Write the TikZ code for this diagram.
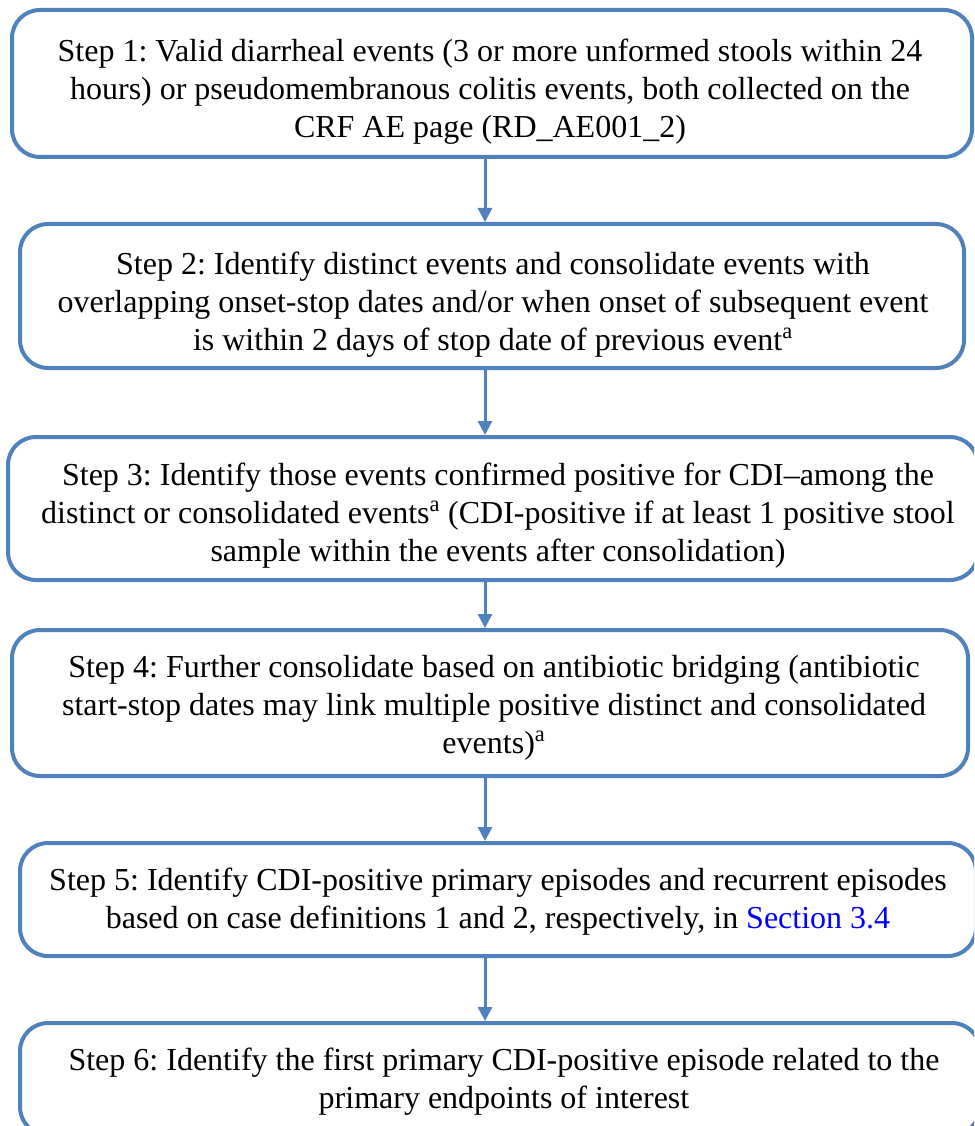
\documentclass[tikz,border=0pt]{standalone}
\usepackage{fontspec}
\setmainfont{Liberation Serif}
\usetikzlibrary{arrows.meta}

\definecolor{stepblue}{RGB}{79,129,189}
\definecolor{linkblue}{RGB}{0,0,255}

\tikzset{
	stepbox/.style={draw=stepblue, line width=3pt, rounded corners=21pt, fill=white, inner sep=0pt},
	steptext/.style={align=center, inner sep=0pt, font=\fontsize{24}{28.5}\selectfont},
	steparrow/.style={draw=stepblue, line width=2.25pt, -{Triangle[width=10.5pt,length=10.5pt]}}}

\begin{document}
\frenchspacing
\begin{tikzpicture}[x=0.75pt,y=0.75pt,yscale=-1,xscale=1]
	\useasboundingbox (0,0) rectangle (974,1126);
	\clip (0,0) rectangle (974,1126);
	
	%Rounded Rect: Step 1
	\node [stepbox, minimum width=720pt, minimum height=110.25pt] (s1) at (492,83.5) {};
	%Rounded Rect: Step 2
	\node [stepbox, minimum width=708pt, minimum height=108pt] (s2) at (492,296) {};
	%Rounded Rect: Step 3
	\node [stepbox, minimum width=727.5pt, minimum height=107.25pt] (s3) at (493,508.5) {};
	%Rounded Rect: Step 4
	\node [stepbox, minimum width=717pt, minimum height=109.5pt] (s4) at (490,703) {};
	%Rounded Rect: Step 5
	\node [stepbox, minimum width=717pt, minimum height=84.75pt] (s5) at (498,899.5) {};
	%Rounded Rect: Step 6
	\node [stepbox, minimum width=720pt, minimum height=84pt] (s6) at (500,1079) {};
	
	% Text Node
	\node [steptext] (t1) at (490,91.5)
		{Step 1: Valid diarrheal events (3 or more unformed stools within 24\\
		hours) or pseudomembranous colitis events, both collected on the\\
		CRF AE page (RD\_AE001\_2)};
	% Text Node
	\node [steptext] (t2) at (493,305)
		{Step 2: Identify distinct events and consolidate events with\\
		overlapping onset-stop dates and/or when onset of subsequent event\\
		is within 2 days of stop date of previous event\textsuperscript{a}};
	% Text Node
	\node [steptext] (t3) at (498,515.5)
		{Step 3: Identify those events confirmed positive for CDI--among the\\
		distinct or consolidated events\textsuperscript{a} (CDI-positive if at least 1 positive stool\\
		sample within the events after consolidation)};
	% Text Node
	\node [steptext] (t4) at (494,707.5)
		{Step 4: Further consolidate based on antibiotic bridging (antibiotic\\
		start-stop dates may link multiple positive distinct and consolidated\\
		events)\textsuperscript{a}};
	% Text Node
	\node [steptext] (t5) at (498,902)
		{Step 5: Identify CDI-positive primary episodes and recurrent episodes\\
		based on case definitions 1 and 2, respectively, in \textcolor{linkblue}{Section 3.4}};
	% Text Node
	\node [steptext] (t6) at (504,1082)
		{Step 6: Identify the first primary CDI-positive episode related to the\\
		primary endpoints of interest};
	
	%Straight Lines
	\coordinate (ax) at (485,0);
	\draw [steparrow] (s1.south -| ax) -- (s2.north -| ax);
	\draw [steparrow] (s2.south -| ax) -- (s3.north -| ax);
	\draw [steparrow] (s3.south -| ax) -- (s4.north -| ax);
	\draw [steparrow] (s4.south -| ax) -- (s5.north -| ax);
	\draw [steparrow] (s5.south -| ax) -- (s6.north -| ax);
	
\end{tikzpicture}
\end{document}
